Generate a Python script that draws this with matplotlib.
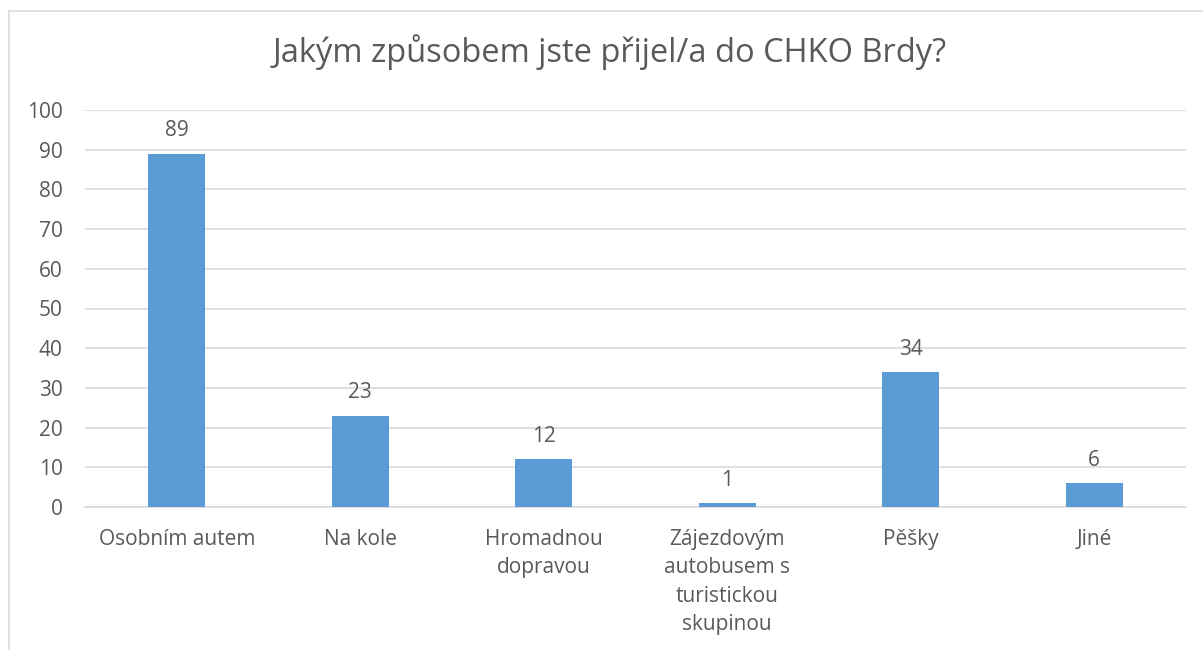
import matplotlib.pyplot as plt
from matplotlib.lines import Line2D

categories = ['Osobním autem', 'Na kole', 'Hromadnou\ndopravou',
              'Zájezdovým\nautobusem s\nturistickou\nskupinou', 'Pěšky', 'Jiné']
values = [89, 23, 12, 1, 34, 6]
yticks = list(range(0, 101, 10))

text_color = '#595959'
bar_color = '#5B9BD5'
grid_color = '#D9D9D9'

plt.rcParams['font.family'] = ['Open Sans', 'DejaVu Sans']

fig = plt.figure(figsize=(12.03, 6.5), dpi=100)
ax = fig.add_axes([85 / 1203, 1 - 507 / 650, 1101 / 1203, 397 / 650])

x = range(len(categories))
bars = ax.bar(x, values, width=0.31, color=bar_color, zorder=3)

for xi, v in zip(x, values):
    ax.annotate(str(v), xy=(xi, v), xytext=(0, 9), textcoords='offset points',
                ha='center', va='bottom', fontsize=15, color=text_color)

ax.set_xlim(-0.5, len(categories) - 0.5)
ax.set_ylim(0, 100)
ax.set_yticks(yticks)
ax.set_xticks(list(x))
ax.set_xticklabels(categories, fontsize=15, color=text_color, linespacing=1.45)
ax.tick_params(axis='y', labelsize=15, labelcolor=text_color, length=0, pad=16)
ax.tick_params(axis='x', length=0, pad=16)

ax.grid(axis='y', color=grid_color, linewidth=1.2, zorder=0)
for side in ['top', 'right', 'left']:
    ax.spines[side].set_visible(False)
ax.spines['bottom'].set_color(grid_color)
ax.spines['bottom'].set_linewidth(1.2)

fig.text(610 / 1203, 1 - 52 / 650, 'Jakým způsobem jste přijel/a do CHKO Brdy?',
         ha='center', va='center', fontsize=23.5, color=text_color)

# chart frame (only left and top edges visible in the crop)
fig.add_artist(Line2D([9 / 1203, 9 / 1203], [0, 1 - 11 / 650], color=grid_color,
                      linewidth=1.2, transform=fig.transFigure))
fig.add_artist(Line2D([9 / 1203, 1], [1 - 11 / 650, 1 - 11 / 650], color=grid_color,
                      linewidth=1.2, transform=fig.transFigure))

fig.savefig('out.png', dpi=100)
